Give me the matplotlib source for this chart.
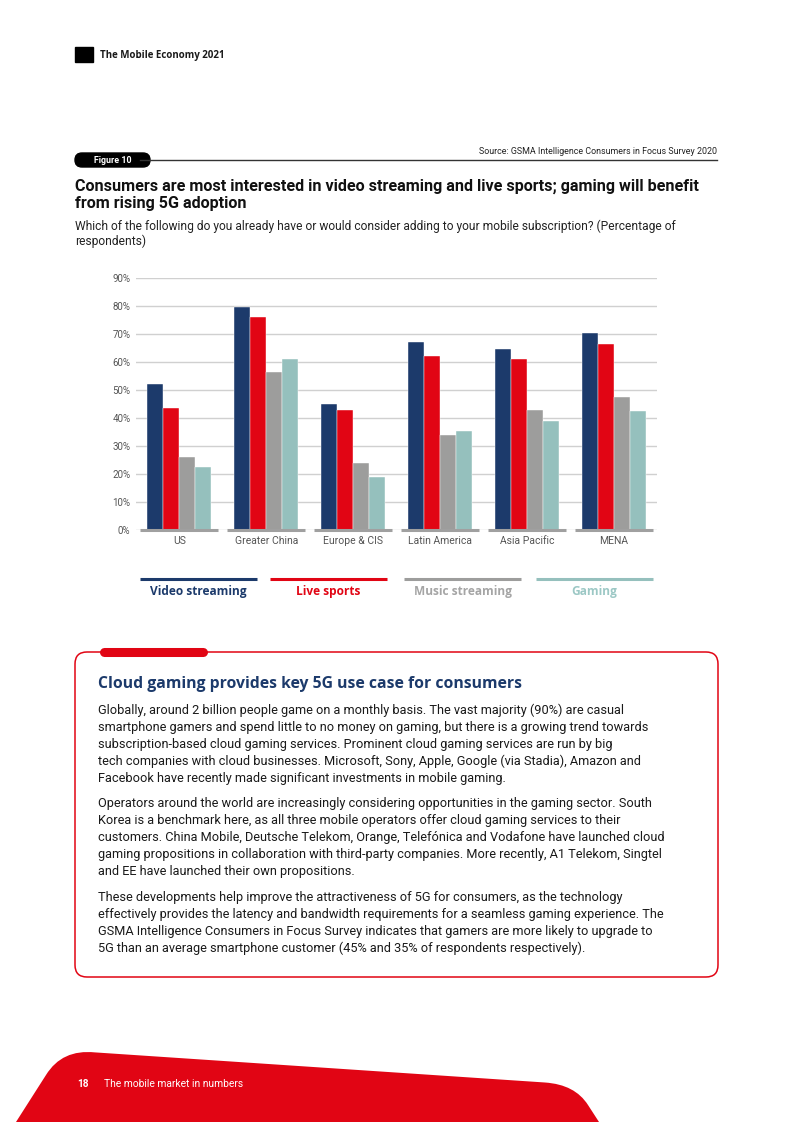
import matplotlib
matplotlib.use('Agg')
import matplotlib.pyplot as plt
import numpy as np
from matplotlib.patches import FancyBboxPatch, Rectangle, PathPatch
from matplotlib.path import Path

# data
regions = ['US', 'Greater China', 'Europe & CIS', 'Latin America', 'Asia Pacific', 'MENA']
video_streaming = [52, 79.5, 45, 67, 64.5, 70.5]
live_sports = [43.5, 76, 43, 62, 61, 66.5]
music_streaming = [26, 56.5, 24, 34, 43, 47.5]
gaming = [22.5, 61, 19, 35.5, 39, 42.5]
series_names = ['Video streaming', 'Live sports', 'Music streaming', 'Gaming']
yticks = [0, 10, 20, 30, 40, 50, 60, 70, 80, 90]

colors = ['#1c3a6b', '#e10514', '#9d9d9c', '#95c0bd']
label_colors = ['#1c3a6b', '#e10514', '#a5a5a5', '#9cc8c5']
navy = '#1c3a6b'
red = '#e10514'

W, H = 793, 1122
fig = plt.figure(figsize=(W / 100, H / 100), dpi=100)

# page overlay in pixel coordinates
page = fig.add_axes([0, 0, 1, 1])
page.set_xlim(0, W)
page.set_ylim(H, 0)
page.axis('off')

sans = ['Roboto', 'DejaVu Sans']
wide = ['Open Sans', 'DejaVu Sans']

# header
page.add_patch(Rectangle((75, 47), 18, 15, color='black'))
page.text(100, 55, 'The Mobile Economy 2021', fontsize=7.05, fontweight='bold',
          family=wide, color='#1a1a1a', va='center')

# source + figure pill
page.text(717, 151, 'Source: GSMA Intelligence Consumers in Focus Survey 2020',
          fontsize=6.4, family=sans, color='#222222', ha='right', va='center')
page.plot([140, 717], [160, 160], color='#333333', lw=1)
page.add_patch(FancyBboxPatch((75, 153), 75, 14, boxstyle='round,pad=0,rounding_size=7',
                              color='black'))
page.text(113, 160, 'Figure 10', fontsize=6.4, fontweight='bold', family=sans,
          color='white', ha='center', va='center')

# titles
page.text(75, 186, 'Consumers are most interested in video streaming and live sports; gaming will benefit',
          fontsize=11.6, fontweight='bold', family=sans, color='#111111', va='center')
page.text(75, 203, 'from rising 5G adoption',
          fontsize=11.6, fontweight='bold', family=sans, color='#111111', va='center')
page.text(75, 226, 'Which of the following do you already have or would consider adding to your mobile subscription? (Percentage of',
          fontsize=8.65, family=sans, color='#222222', va='center')
page.text(75, 241, 'respondents)', fontsize=8.65, family=sans, color='#222222', va='center')

# chart
ax_left, ax_right = 136, 657
y0, y90 = 530, 278
ax = fig.add_axes([ax_left / W, 1 - y0 / H, (ax_right - ax_left) / W, (y0 - y90) / H])
ax.set_xlim(-0.5, len(regions) - 0.5)
ax.set_ylim(0, 90)
ax.patch.set_alpha(0)

x = np.arange(len(regions))
bw = 0.184
all_series = [video_streaming, live_sports, music_streaming, gaming]
for i, vals in enumerate(all_series):
    ax.bar(x + (i - 1.5) * bw, vals, width=bw, color=colors[i], edgecolor='white',
           linewidth=0.3, zorder=3, label=series_names[i])

ax.set_yticks(yticks)
ax.set_yticklabels([f'{v}%' for v in yticks], fontsize=7, color='#555555', family=sans)
ax.yaxis.grid(True, color='#d0d0d0', lw=1)
ax.set_axisbelow(True)
ax.set_xticks(x)
ax.set_xticklabels(regions, fontsize=7.5, color='#555555', family=sans)
ax.tick_params(length=0, pad=4)
ax.tick_params(axis='y', pad=4)
for s in ax.spines.values():
    s.set_visible(False)
for xi in x:
    ax.plot([xi - 0.45, xi + 0.45], [0, 0], color='#a0a0a0', lw=2.2, zorder=4,
            solid_capstyle='butt', clip_on=False)

# legend
leg_x = [140, 270, 404, 536]
for i, name in enumerate(series_names):
    page.plot([leg_x[i], leg_x[i] + 117], [578.5, 578.5], color=colors[i], lw=2.2,
              solid_capstyle='butt')
    page.text(leg_x[i] + 58.5, 591.5, name, fontsize=8.6, fontweight='bold', family=wide,
              color=label_colors[i], ha='center', va='center')

# cloud gaming box
page.add_patch(FancyBboxPatch((75, 652), 643, 325, boxstyle='round,pad=0,rounding_size=12',
                              fill=False, edgecolor=red, lw=1.1))
page.plot([104, 203], [652, 652], color=red, lw=6.5, solid_capstyle='round')
page.text(98, 684, 'Cloud gaming provides key 5G use case for consumers', fontsize=11.3,
          fontweight='bold', family=wide, color=navy, va='center')

paragraphs = [
    ['Globally, around 2 billion people game on a monthly basis. The vast majority (90%) are casual',
     'smartphone gamers and spend little to no money on gaming, but there is a growing trend towards',
     'subscription-based cloud gaming services. Prominent cloud gaming services are run by big',
     'tech companies with cloud businesses. Microsoft, Sony, Apple, Google (via Stadia), Amazon and',
     'Facebook have recently made significant investments in mobile gaming.'],
    ['Operators around the world are increasingly considering opportunities in the gaming sector. South',
     'Korea is a benchmark here, as all three mobile operators offer cloud gaming services to their',
     'customers. China Mobile, Deutsche Telekom, Orange, Telefónica and Vodafone have launched cloud',
     'gaming propositions in collaboration with third-party companies. More recently, A1 Telekom, Singtel',
     'and EE have launched their own propositions.'],
    ['These developments help improve the attractiveness of 5G for consumers, as the technology',
     'effectively provides the latency and bandwidth requirements for a seamless gaming experience. The',
     'GSMA Intelligence Consumers in Focus Survey indicates that gamers are more likely to upgrade to',
     '5G than an average smartphone customer (45% and 35% of respondents respectively).'],
]
starts = [710, 803, 897]
for para, ys in zip(paragraphs, starts):
    for j, line in enumerate(para):
        page.text(98, ys + j * 17, line, fontsize=9.15, family=sans, color='#1a1a1a', va='center')

# footer shape
verts = [(16, 1122), (46, 1075), (62, 1049), (95, 1052.4), (545, 1082.5),
         (575, 1084.5), (588, 1105), (599, 1122), (16, 1122)]
codes = [Path.MOVETO, Path.LINETO, Path.CURVE3, Path.CURVE3, Path.LINETO,
         Path.CURVE3, Path.CURVE3, Path.LINETO, Path.CLOSEPOLY]
page.add_patch(PathPatch(Path(verts, codes), color=red, lw=0))
page.text(77, 1084, '18', fontsize=7.2, fontweight='bold', family=sans, color='white', va='center')
page.text(104, 1084, 'The mobile market in numbers', fontsize=7.4, family=sans, color='white',
          va='center')

fig.savefig('out.png', dpi=100)
